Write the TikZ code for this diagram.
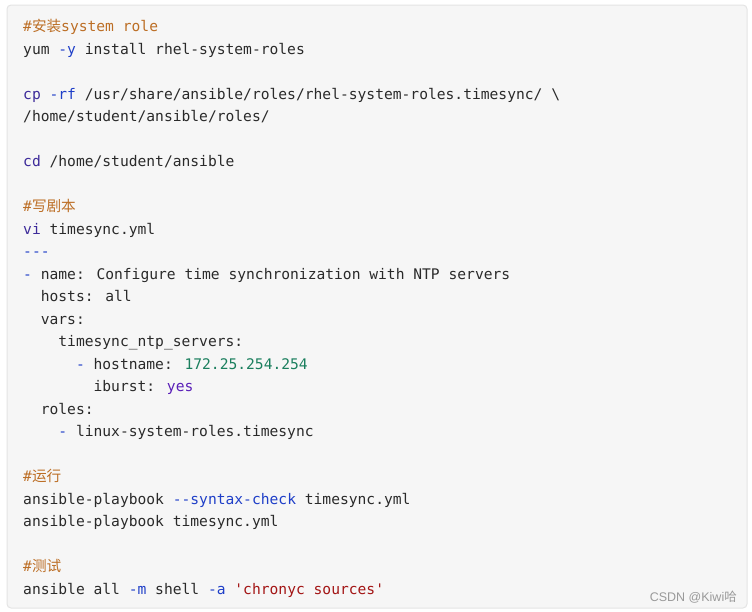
\documentclass[tikz,border=0pt]{standalone}
\usepackage{fontspec}
\usepackage{xcolor}
\usepackage{tikz}
\newfontfamily\codefont{DejaVu Sans Mono}
\newfontfamily\cjk{Noto Sans CJK SC}
\setsansfont{Liberation Sans}

\definecolor{codebg}{HTML}{F6F6F6}
\definecolor{codeframe}{HTML}{E4E4E4}
\definecolor{codetext}{HTML}{2A2A2A}
\definecolor{cmtcol}{HTML}{BC6E25}
\definecolor{kwcol}{HTML}{3D2B9A}
\definecolor{optcol}{HTML}{1F3FC8}
\definecolor{numcol}{HTML}{1B7F5E}
\definecolor{yescol}{HTML}{5A1FB8}
\definecolor{strcol}{HTML}{A31515}
\definecolor{markcol}{HTML}{9A9A9A}

% colour spans for the code
\newcommand{\ccmt}[1]{\textcolor{cmtcol}{#1}}
\newcommand{\ckw}[1]{\textcolor{kwcol}{#1}}
\newcommand{\copt}[1]{\textcolor{optcol}{#1}}
\newcommand{\cnum}[1]{\textcolor{numcol}{#1}}
\newcommand{\cyes}[1]{\textcolor{yescol}{#1}}
\newcommand{\cstr}[1]{\textcolor{strcol}{#1}}

\begin{document}
\begin{tikzpicture}[x=1pt,y=1pt,
    codeline/.style={anchor=base west,inner sep=0pt,text=codetext,
      font=\codefont\fontsize{14.62pt}{22.5pt}\selectfont},
    watermark/.style={anchor=base east,inner sep=0pt,text=markcol,
      font=\sffamily\fontsize{12.5pt}{14pt}\selectfont}]
  \useasboundingbox (0,0) rectangle (752,-611);
  \draw[rounded corners=4pt,fill=codebg,draw=codeframe,line width=1pt] (7,-5) rectangle (747,-608);

  % install the role
  \node[codeline] (l0) at (23,-31.5) {\ccmt{\#{\cjk 安装}system role}};
  \node[codeline] (l1) at (23,-54) {yum \copt{-y} install rhel-system-roles};
  \node[codeline] (l3) at (23,-99) {\ckw{cp} \copt{-rf} /usr/share/ansible/roles/rhel-system-roles.timesync/ \textbackslash};
  \node[codeline] (l4) at (23,-121.5) {/home/student/ansible/roles/};
  \node[codeline] (l6) at (23,-166.5) {\ckw{cd} /home/student/ansible};

  % playbook
  \node[codeline] (l8) at (23,-211.5) {\ccmt{\#{\cjk 写剧本}}};
  \node[codeline] (l9) at (23,-234) {\ckw{vi} timesync.yml};
  \node[codeline] (l10) at (23,-256.5) {\copt{---}};
  \node[codeline] (l11) at (23,-279) {\copt{-} name: Configure time synchronization with NTP servers};
  \node[codeline] (l12) at (40.6,-301.5) {hosts: all};
  \node[codeline] (l13) at (40.6,-324) {vars:};
  \node[codeline] (l14) at (58.2,-346.5) {timesync\_ntp\_servers:};
  \node[codeline] (l15) at (75.8,-369) {\copt{-} hostname: \cnum{172.25.254.254}};
  \node[codeline] (l16) at (93.4,-391.5) {iburst: \cyes{yes}};
  \node[codeline] (l17) at (40.6,-414) {roles:};
  \node[codeline] (l18) at (58.2,-436.5) {\copt{-} linux-system-roles.timesync};

  % run
  \node[codeline] (l20) at (23,-481.5) {\ccmt{\#{\cjk 运行}}};
  \node[codeline] (l21) at (23,-504) {ansible-playbook \copt{--syntax-check} timesync.yml};
  \node[codeline] (l22) at (23,-526.5) {ansible-playbook timesync.yml};

  % test
  \node[codeline] (l24) at (23,-571.5) {\ccmt{\#{\cjk 测试}}};
  \node[codeline] (l25) at (23,-594) {ansible all \copt{-m} shell \copt{-a} \cstr{'chronyc sources'}};

  \node[watermark] (mark) at (737,-601.5) {CSDN @Kiwi{\cjk 哈}};
\end{tikzpicture}
\end{document}
